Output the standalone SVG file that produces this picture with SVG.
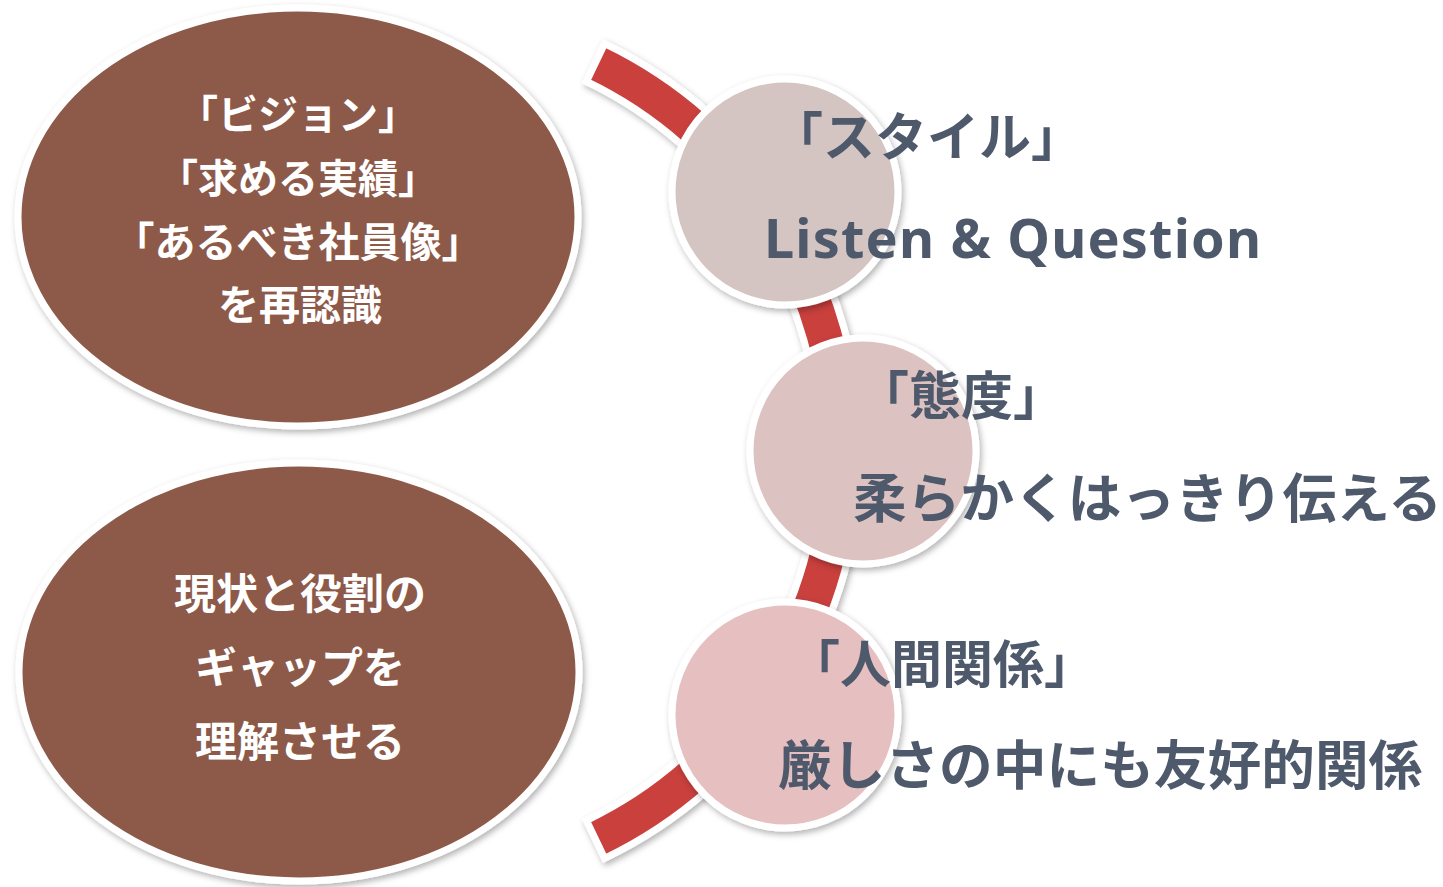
<svg xmlns="http://www.w3.org/2000/svg" width="1443" height="887" viewBox="0 0 1443 887">
  <defs>
    <filter id="sh" x="-20%" y="-20%" width="140%" height="140%">
      <feDropShadow dx="2" dy="3" stdDeviation="3" flood-color="#000" flood-opacity="0.3"/>
    </filter>
    <style>
      .oval { fill: #8D5A4A; stroke: #ffffff; stroke-width: 7; filter: url(#sh); }
      .band { fill: #C9413E; stroke: #ffffff; stroke-width: 7; stroke-linejoin: miter; filter: url(#sh); }
      .dot { stroke: #ffffff; stroke-width: 7; filter: url(#sh); }
      .wt { fill: #ffffff; font-family: "Noto Sans CJK JP", "Noto Sans", sans-serif; font-weight: bold; text-anchor: middle; dominant-baseline: central; }
      .dk { fill: #4E5A6B; font-family: "Noto Sans CJK JP", "Noto Sans", sans-serif; font-weight: bold; dominant-baseline: central; }
      .lat { fill: #4E5A6B; font-family: "Noto Sans", "DejaVu Sans", sans-serif; font-weight: bold; }
    </style>
  </defs>
  <rect width="1443" height="887" fill="#ffffff"/>

  <g id="oval-top">
    <ellipse class="oval" cx="298" cy="217" rx="280" ry="209"/>
    <text class="wt" x="298" y="112" font-size="40">「ビジョン」</text>
    <text class="wt" x="298" y="176" font-size="40">「求める実績」</text>
    <text class="wt" x="298" y="239" font-size="41">「あるべき社員像」</text>
    <text class="wt" x="300" y="302" font-size="41">を再認識</text>
  </g>

  <g id="oval-bottom">
    <ellipse class="oval" cx="299" cy="672" rx="280" ry="209"/>
    <text class="wt" x="300" y="590" font-size="42">現状と役割の</text>
    <text class="wt" x="300" y="664" font-size="42">ギャップを</text>
    <text class="wt" x="300" y="738" font-size="42">理解させる</text>
  </g>

  <g id="connectors">
    <path class="band" d="M604.6,43.7 A451.7,451.7 0 0 1 604.6,858.3 L586.5,820.5 A409.7,409.7 0 0 0 586.5,81.5 Z"/>
  </g>

  <g id="node-style">
    <circle class="dot" cx="785" cy="192" r="113" fill="#D4C5C2"/>
    <text class="dk" x="771" y="133" font-size="52">「スタイル」</text>
    <text class="lat" x="764" y="258" font-size="54" textLength="497" lengthAdjust="spacing">Listen &amp; Question</text>
  </g>

  <g id="node-attitude">
    <circle class="dot" cx="863" cy="451" r="113" fill="#DDC2C2"/>
    <text class="dk" x="857" y="392" font-size="52">「態度」</text>
    <text class="dk" x="853" y="494" font-size="53.7">柔らかくはっきり伝える</text>
  </g>

  <g id="node-relation">
    <circle class="dot" cx="785" cy="715" r="113" fill="#E6BFC0"/>
    <text class="dk" x="789" y="661" font-size="51">「人間関係」</text>
    <text class="dk" x="778" y="761" font-size="53.7">厳しさの中にも友好的関係</text>
  </g>
</svg>
